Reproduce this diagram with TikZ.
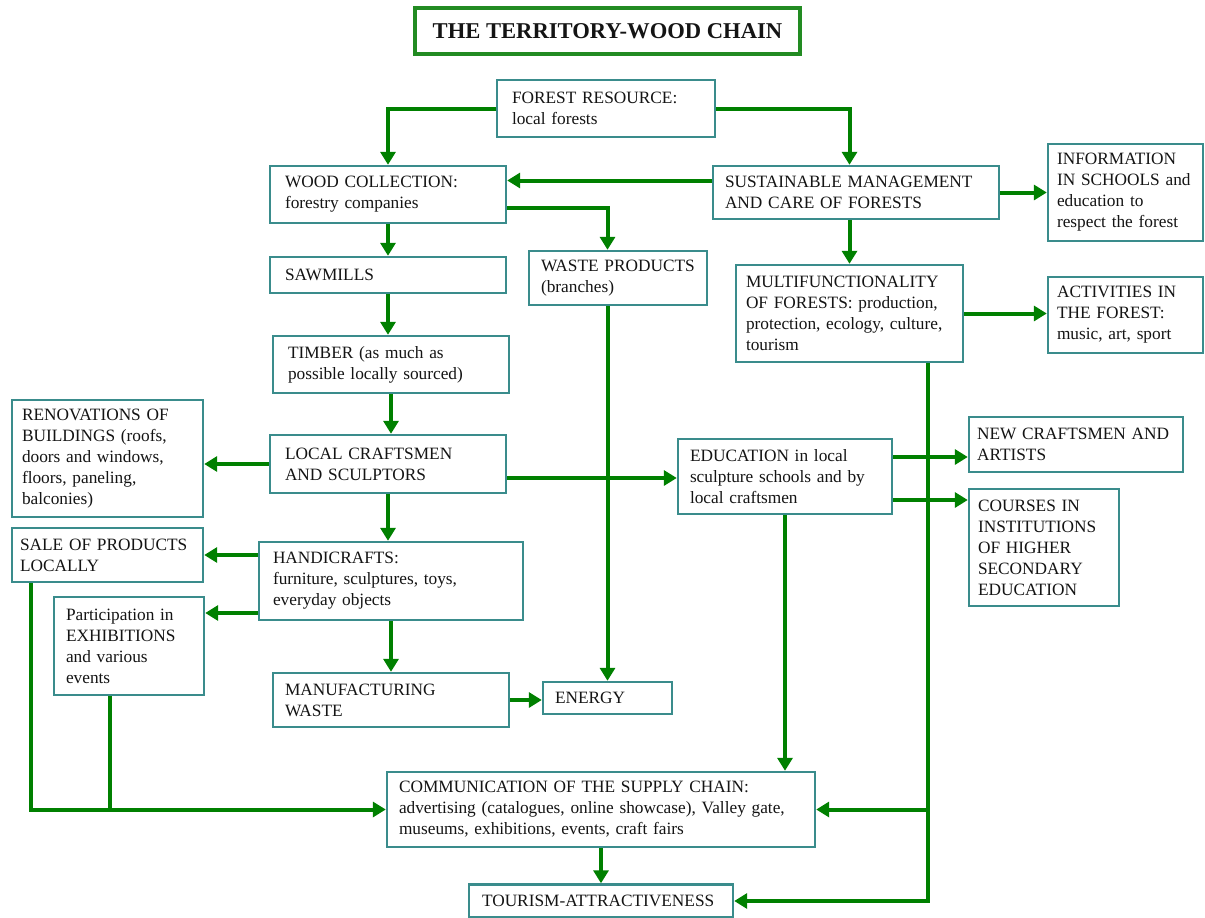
\documentclass[tikz,border=0pt]{standalone}
\usepackage{fontspec}
\setmainfont{Liberation Serif}
\usetikzlibrary{arrows.meta}

\definecolor{boxline}{RGB}{58,140,140}
\definecolor{flowgreen}{RGB}{0,128,0}
\definecolor{titlegreen}{RGB}{34,139,34}

\begin{document}
\begin{tikzpicture}[x=1pt, y=-1pt,
    box/.style={draw=boxline, line width=2.4pt, fill=white, align=left,
        inner xsep=12pt, inner ysep=2pt, text=black!92,
        font=\fontsize{17.3}{21}\selectfont},
    titlebox/.style={draw=titlegreen, line width=3.5pt, fill=white,
        text=black!92, font=\fontsize{22.6}{26}\selectfont\bfseries},
    flow/.style={draw=flowgreen, line width=4pt, -{Triangle[length=13pt, width=15pt]}},
    link/.style={draw=flowgreen, line width=4pt}]

    \useasboundingbox (0,0) rectangle (1205,918);

    % Title
    \node[titlebox, minimum width=385pt, minimum height=46pt] (title) at (607.5,31) {THE TERRITORY-WOOD CHAIN};

    % Boxes
    \node[box, minimum width=218pt, minimum height=57pt, inner xsep=15pt, text width=188pt] (fr) at (606,108.5)
        {FOREST RESOURCE:\\local forests};
    \node[box, minimum width=236pt, minimum height=57pt, inner xsep=15pt, text width=206pt] (wc) at (388,194.5)
        {WOOD COLLECTION:\\forestry companies};
    \node[box, minimum width=286pt, minimum height=53pt, text width=262pt] (sm) at (856,192.5)
        {SUSTAINABLE MANAGEMENT\\AND CARE OF FORESTS};
    \node[box, minimum width=155pt, minimum height=97pt, inner xsep=9pt, text width=137pt] (info) at (1125.5,192.5)
        {INFORMATION\\IN SCHOOLS and\\education to\\respect the forest};
    \node[box, minimum width=236pt, minimum height=36pt, inner xsep=15pt, text width=206pt] (sw) at (388,275)
        {SAWMILLS};
    \node[box, minimum width=178pt, minimum height=54pt, text width=154pt] (wp) at (618,278)
        {WASTE PRODUCTS\\(branches)};
    \node[box, minimum width=227pt, minimum height=97pt, inner xsep=10pt, text width=207pt] (mf) at (849.5,313.5)
        {MULTIFUNCTIONALITY\\OF FORESTS: production,\\protection, ecology, culture,\\tourism};
    \node[box, minimum width=155pt, minimum height=76pt, inner xsep=9pt, text width=137pt] (act) at (1125.5,315)
        {ACTIVITIES IN\\THE FOREST:\\music, art, sport};
    \node[box, minimum width=236pt, minimum height=57pt, inner xsep=15pt, text width=206pt] (tb) at (391,364.5)
        {TIMBER (as much as\\possible locally sourced)};
    \node[box, minimum width=191pt, minimum height=117pt, inner xsep=10pt, text width=171pt] (ren) at (107.5,458.5)
        {RENOVATIONS OF\\BUILDINGS (roofs,\\doors and windows,\\floors, paneling,\\balconies)};
    \node[box, minimum width=236pt, minimum height=58pt, inner xsep=15pt, text width=206pt] (lc) at (388,464)
        {LOCAL CRAFTSMEN\\AND SCULPTORS};
    \node[box, minimum width=214pt, minimum height=75pt, text width=190pt] (ed) at (785,476.5)
        {EDUCATION in local\\sculpture schools and by\\local craftsmen};
    \node[box, minimum width=214pt, minimum height=55pt, inner xsep=8pt, text width=198pt] (nc) at (1076,444.5)
        {NEW CRAFTSMEN AND\\ARTISTS};
    \node[box, minimum width=150pt, minimum height=117pt, inner xsep=9pt, text width=132pt] (cs) at (1044,547.5)
        {COURSES IN\\INSTITUTIONS\\OF HIGHER\\SECONDARY\\EDUCATION};
    \node[box, minimum width=191pt, minimum height=54pt, inner xsep=8pt, text width=175pt] (sale) at (107.5,555)
        {SALE OF PRODUCTS\\LOCALLY};
    \node[box, minimum width=264pt, minimum height=78pt, inner xsep=14pt, text width=236pt] (hc) at (391,581)
        {HANDICRAFTS:\\furniture, sculptures, toys,\\everyday objects};
    \node[box, minimum width=150pt, minimum height=98pt, text width=126pt] (pt) at (129,646)
        {Participation in\\EXHIBITIONS\\and various\\events};
    \node[box, minimum width=236pt, minimum height=54pt, text width=212pt] (mw) at (391,700)
        {MANUFACTURING\\WASTE};
    \node[box, minimum width=129pt, minimum height=32pt, text width=105pt] (en) at (607.5,698)
        {ENERGY};
    \node[box, minimum width=428pt, minimum height=75pt, text width=404pt] (cm) at (601,809.5)
        {COMMUNICATION OF THE SUPPLY CHAIN:\\advertising (catalogues, online showcase), Valley gate,\\museums, exhibitions, events, craft fairs};
    \node[box, minimum width=264pt, minimum height=33pt, inner xsep=13pt, text width=238pt] (tr) at (601,901)
        {TOURISM-ATTRACTIVENESS};

    % Arrows from the forest
    \draw[flow] (fr.west) -| (wc.north);
    \draw[flow] (fr.east) -| (sm.north -| mf.north);
    \draw[flow] ([yshift=12pt]sm.west) -- ([yshift=12pt]sm.west -| wc.east);
    \draw[flow] (sm.east) -- (sm.east -| info.west);
    \draw[flow] (sm.south -| mf.north) -- (mf.north);
    \draw[flow] (mf.east) -- (mf.east -| act.west);

    % Wood chain
    \draw[flow] (wc.south) -- (sw.north);
    \draw[flow] ([yshift=-13.5pt]wc.east) -| (en.north |- wp.north);
    \draw[flow] (sw.south) -- (sw.south |- tb.north);
    \draw[flow] (tb.south) -- (tb.south |- lc.north);
    \draw[flow] (lc.west) -- (lc.west -| ren.east);
    \draw[flow] ([yshift=-14pt]lc.east) -- ([yshift=-14pt]lc.east -| ed.west);
    \draw[flow] (lc.south) -- (lc.south |- hc.north);
    \draw[flow] (en.north |- wp.south) -- (en.north);

    % Education
    \draw[flow] ([yshift=19.5pt]ed.east) -- ([yshift=19.5pt]ed.east -| nc.west);
    \draw[flow] ([yshift=-23.5pt]ed.east) -- ([yshift=-23.5pt]ed.east -| cs.west);
    \draw[flow] (ed.south) -- (ed.south |- cm.north);

    % Handicrafts
    \draw[flow] ([yshift=26pt]hc.west) -- ([yshift=26pt]hc.west -| sale.east);
    \draw[flow] ([yshift=-32pt]hc.west) -- ([yshift=-32pt]hc.west -| pt.east);
    \draw[flow] (hc.south) -- (hc.south |- mw.north);
    \draw[flow] (mw.east) -- (mw.east -| en.west);

    % Towards communication and tourism
    \coordinate (mfdrop) at ([xshift=78.5pt]mf.south);
    \coordinate (saledrop) at ([xshift=20pt]sale.south west);
    \draw[flow] (mfdrop) |- (tr.east);
    \draw[flow] (mfdrop |- cm.east) -- (cm.east);
    \draw[flow] (saledrop) |- (cm.west);
    \draw[link] ([xshift=-19pt]pt.south) -- ([xshift=-19pt]pt.south |- cm.west);
    \draw[flow] (cm.south) -- (tr.north);

\end{tikzpicture}
\end{document}
